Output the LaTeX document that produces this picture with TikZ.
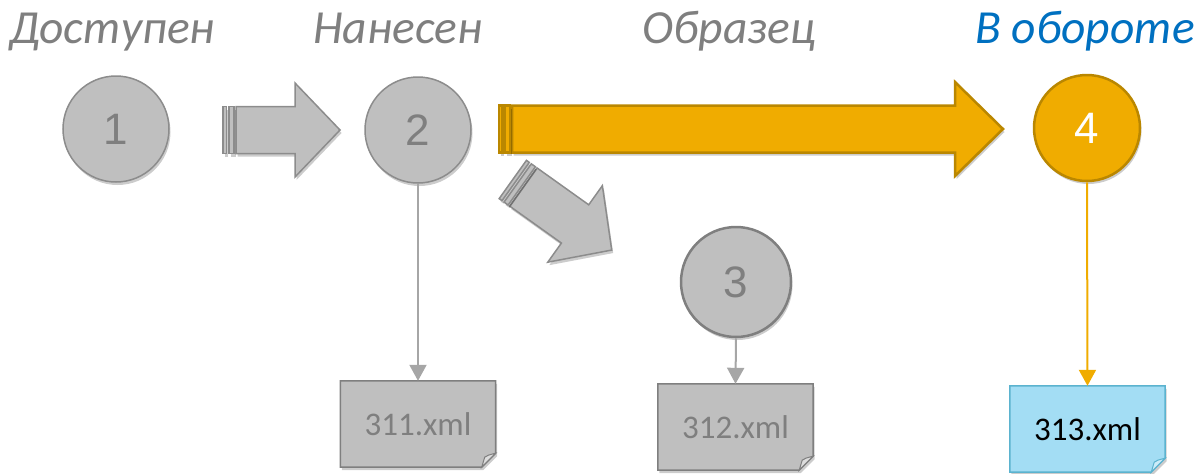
\documentclass[tikz,border=0pt]{standalone}
\usepackage{fontspec}
\setmainfont{Carlito}
\newfontfamily\arialf{Liberation Sans}
\usetikzlibrary{shadows,arrows.meta,calc,backgrounds}
\definecolor{gfill}{HTML}{BFBFBF}
\definecolor{gline}{HTML}{8C8C8C}
\definecolor{gdark}{HTML}{7F7F7F}
\definecolor{gtext}{HTML}{7F7F7F}
\definecolor{ofill}{HTML}{F0AC00}
\definecolor{oline}{HTML}{BA8700}
\definecolor{ttlblue}{HTML}{0070C0}
\definecolor{bfill}{HTML}{A3DDF4}
\definecolor{bline}{HTML}{5BB3CF}
\definecolor{gconn}{HTML}{A6A6A6}
\newcommand\StripeArrow[3]{%
  \path[#3] (13,-23.5) -- ({#1-#2},-23.5) -- ({#1-#2},-47) -- (#1,0) -- ({#1-#2},47) -- ({#1-#2},23.5) -- (13,23.5) -- cycle;
  \path[#3] (0,-23.5) rectangle (3.5,23.5);
  \path[#3] (6,-23.5) rectangle (11,23.5);
}
\newcommand\FileShape[3]{%
  \path[fill=#2, draw=#3, line width=1.5pt, shad]
    (#1.north west) -- (#1.north east) -- ([yshift=14pt]#1.south east)
    -- ([xshift=-14pt]#1.south east) -- (#1.south west) -- cycle;
  \path[fill=#2!55!white, draw=#3, line width=1pt]
    ([yshift=14pt]#1.south east) .. controls ([xshift=-8pt,yshift=12pt]#1.south east) .. ([xshift=-11pt,yshift=10pt]#1.south east)
    -- ([xshift=-14pt]#1.south east) -- cycle;
}
\tikzset{
  shad/.style={drop shadow={opacity=0.2, shadow xshift=1.5pt, shadow yshift=-3pt, fill=black}},
  ttl/.style={anchor=base, font=\fontsize{47.5}{47.5}\selectfont\itshape, text=gtext, inner sep=0},
  numcirc/.style={circle, minimum size=106pt, inner sep=0, line width=1.5pt, shad,
    font=\arialf\fontsize{44}{44}\selectfont},
  gcirc/.style={numcirc, fill=gfill, draw=gline, text=gtext},
  filenode/.style={minimum width=155pt, minimum height=86pt, inner sep=0,
    font=\fontsize{33}{33}\selectfont, text=gtext},
  garrow/.style={fill=gfill, draw=gline, line width=1.5pt, shad},
  oarrow/.style={fill=ofill, draw=oline, line width=2.5pt, shad},
  conn/.style={line width=2pt, -{Triangle[width=17pt,length=16pt]}},
}
\begin{document}
\begin{tikzpicture}[x=1pt,y=-1pt]
\useasboundingbox (0,0) rectangle (1200,474);
% titles
\node[ttl] (t1) at (112,43) {Доступен};
\node[ttl] (t2) at (398,43) {Нанесен};
\node[ttl] (t3) at (729,43) {Образец};
\node[ttl, text=ttlblue] (t4) at (1085,43) {В обороте};
% block arrows
\begin{scope}[shift={(223,130)}]
  \StripeArrow{117}{45}{garrow}
\end{scope}
\begin{scope}[shift={(512.8,179.5)}, rotate=-35.5]
  \StripeArrow{121.5}{45}{garrow}
\end{scope}
\begin{scope}[shift={(499,129)}]
  \StripeArrow{504}{48}{oarrow}
\end{scope}
% circles
\node[gcirc] (c1) at (116,129) {1};
\node[gcirc] (c2) at (418,130) {2};
\node[gcirc, minimum size=110pt, draw=gdark, line width=2.5pt] (c3) at (736,282) {3};
\node[numcirc, fill=ofill, draw=oline, line width=2.5pt, text=white] (c4) at (1087,128) {4};
% files
\node[filenode] (f1) at (418,424) {311.xml};
\node[filenode] (f2) at (735.5,427) {312.xml};
\node[filenode, text=black] (f3) at (1087.5,429) {313.xml};
\begin{scope}[on background layer]
  \FileShape{f1}{gfill}{gdark}
  \FileShape{f2}{gfill}{gdark}
  \FileShape{f3}{bfill}{bline}
\end{scope}
% connectors
\draw[conn, gconn] (c2.south) -- (f1.north);
\draw[conn, gconn] (c3.south) -- (f2.north);
\draw[conn, ofill] (c4.south) -- (f3.north);
\end{tikzpicture}
\end{document}
